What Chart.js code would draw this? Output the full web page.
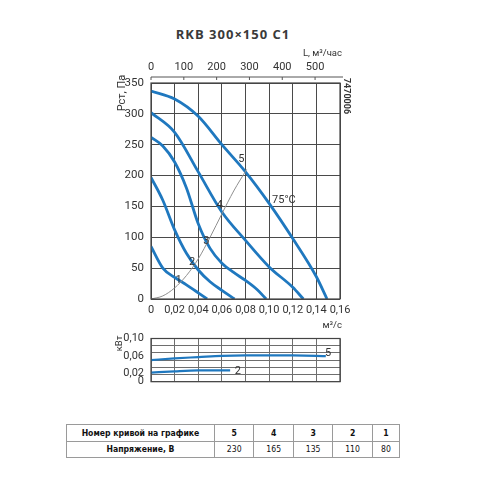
<!DOCTYPE html>
<html>
<head>
<meta charset="utf-8">
<script src="https://cdn.jsdelivr.net/npm/chart.js@4/dist/chart.umd.min.js"></script>
<style>
  body { margin: 0; background: #fff; }
  #page { position: relative; width: 480px; height: 480px; overflow: hidden; }
  canvas { position: absolute; left: 0; }
  #title { position: absolute; left: 0; width: 466px; top: 25px; text-align: center;
           font: bold 13px "Open Sans", sans-serif; letter-spacing: 1px; color: #3a3a3a; }
  table { position: absolute; left: 66px; top: 424px; width: 334px; border-collapse: collapse;
          font-family: "DejaVu Sans Condensed", "DejaVu Sans", sans-serif; font-size: 8.6px; color: #111; }
  td { border: 1px solid #9a9a9a; text-align: center; padding: 0; height: 15.5px; }
  td.head { width: 147px; font-weight: bold; }
  tr.num td { font-weight: bold; }
</style>
</head>
<body>
<div id="page">
  <div id="title">RKB 300×150 C1</div>
  <canvas id="pressure" width="480" height="320" style="top:0"></canvas>
  <canvas id="power" width="480" height="80" style="top:320px"></canvas>
  <table>
    <tr class="num"><td class="head">Номер кривой на графике</td><td>5</td><td>4</td><td>3</td><td>2</td><td>1</td></tr>
    <tr><td class="head">Напряжение, В</td><td>230</td><td>165</td><td>135</td><td>110</td><td>80</td></tr>
  </table>
</div>
<script>
// axis ticks
const flowTicks = [0, 0.02, 0.04, 0.06, 0.08, 0.10, 0.12, 0.14, 0.16];
const hourTicks = [0, 100, 200, 300, 400, 500];
const pressTicks = [0, 50, 100, 150, 200, 250, 300, 350];
const kwTicks = [0, 0.02, 0.06, 0.10];
const kwGrid = [0, 0.0167, 0.0333, 0.05, 0.0667, 0.0833, 0.10];

// fan curves, L (m3/s) -> Pст (Па)
const flow5 = [0, 0.02, 0.04, 0.06, 0.08, 0.10, 0.12, 0.14, 0.149];
const pres5 = [337, 324, 296, 250, 206, 155, 98, 36, 0];
const flow4 = [0, 0.02, 0.04, 0.06, 0.08, 0.10, 0.12, 0.129];
const pres4 = [302, 270, 206, 141, 95, 52, 19, 0];
const flow3 = [0, 0.01, 0.02, 0.03, 0.04, 0.05, 0.06, 0.07, 0.08, 0.09, 0.0975];
const pres3 = [262, 248, 222, 180, 122, 82, 58, 43, 30, 15, 0];
const flow2 = [0, 0.01, 0.02, 0.03, 0.04, 0.05, 0.06, 0.0707];
const pres2 = [197, 160, 112, 74, 47, 28, 14, 0];
const flow1 = [0, 0.01, 0.02, 0.03, 0.04, 0.0475];
const pres1 = [85, 50, 35, 23, 10, 0];
// network curve (grey)
const flowNet = [0, 0.01, 0.02, 0.03, 0.04, 0.05, 0.06, 0.07, 0.081];
const presNet = [0, 5, 18, 38, 65, 100, 138, 175, 210];

// power, кВт
const flowW5 = [0, 0.02, 0.04, 0.06, 0.08, 0.10, 0.12, 0.14, 0.148];
const power5 = [0.050, 0.054, 0.057, 0.060, 0.061, 0.061, 0.061, 0.060, 0.059];
const flowW2 = [0, 0.02, 0.04, 0.06, 0.067];
const power2 = [0.021, 0.024, 0.026, 0.026, 0.026];

const BLUE = '#1f78bf';
const FONT = 'Roboto, sans-serif';
const TXT = '#333';

let pts = (xs, ys) => xs.map((x, i) => ({ x: x, y: ys[i] }));
let fmtFlow = v => v === 0 ? '0' : v.toFixed(2).replace('.', ',');
let fixTicks = list => scale => { scale.ticks = list.map(v => ({ value: v })); };

let curve = (xs, ys, color = BLUE, width = 2.8) => ({
    data: pts(xs, ys),
    borderColor: color,
    borderWidth: width,
    pointRadius: 0,
    cubicInterpolationMode: 'monotone',
    fill: false
});

let frame = {
    id: 'frame',
    afterDatasetsDraw(chart) {
        let a = chart.chartArea, ctx = chart.ctx;
        ctx.save();
        ctx.strokeStyle = '#444';
        ctx.lineWidth = 1.2;
        ctx.strokeRect(a.left, a.top, a.right - a.left, a.bottom - a.top);
        ctx.restore();
    }
};

let text = (ctx, str, x, y, size, align = 'center', rot = 0, weight = 'normal') => {
    ctx.save();
    ctx.translate(x, y);
    ctx.rotate(rot);
    ctx.font = weight + ' ' + size + 'px ' + FONT;
    ctx.fillStyle = TXT;
    ctx.textAlign = align;
    ctx.textBaseline = 'middle';
    ctx.fillText(str, 0, 0);
    ctx.restore();
};

let pressureNotes = {
    id: 'pressureNotes',
    afterDraw(chart) {
        let ctx = chart.ctx, a = chart.chartArea;
        let x = chart.scales.x, y = chart.scales.y, top = chart.scales.x2;
        // m3/h axis line above the frame
        let ly = a.top - 6;
        ctx.save();
        ctx.strokeStyle = '#555';
        ctx.lineWidth = 1;
        ctx.beginPath();
        ctx.moveTo(a.left, ly);
        ctx.lineTo(a.right + 3, ly);
        hourTicks.forEach(v => {
            let px = top.getPixelForValue(v);
            ctx.moveTo(px, ly);
            ctx.lineTo(px, ly + 3);
        });
        ctx.stroke();
        ctx.restore();

        let at = (s, fx, py, size = 11, align = 'center') => text(ctx, s, x.getPixelForValue(fx), y.getPixelForValue(py), size, align);
        at('1', 0.0234, 30);
        at('2', 0.0347, 60);
        at('3', 0.0469, 94);
        at('4', 0.0581, 152);
        at('5', 0.0765, 227);
        at('75°C', 0.1025, 160, 11, 'left');

        text(ctx, 'Рст, Па', 122, 93, 11, 'center', -Math.PI / 2);
        text(ctx, 'L, м³/час', a.right + 2, 54, 9.5, 'right');
        text(ctx, '7470006', a.right + 6, 96, 9, 'center', Math.PI / 2, 'bold');
    }
};

let powerNotes = {
    id: 'powerNotes',
    afterDraw(chart) {
        let ctx = chart.ctx, a = chart.chartArea;
        let x = chart.scales.x, y = chart.scales.y;
        text(ctx, '5', x.getPixelForValue(0.150), y.getPixelForValue(0.067), 11);
        text(ctx, '2', x.getPixelForValue(0.0736), y.getPixelForValue(0.025), 11);
        text(ctx, 'м³/с', a.right + 2, a.top - 13, 9.5, 'right');
        text(ctx, 'кВт', 120, a.top + 5, 9.5, 'center', -Math.PI / 2);
    }
};

let tickFont = { family: FONT, size: 11 };
let gridMain = { color: '#4a4a4a', lineWidth: 1, drawTicks: false };
let gridLow = { color: '#6e6e6e', lineWidth: 1, drawTicks: false };

new Chart(document.getElementById('pressure'), {
    type: 'line',
    data: {
        datasets: [
            curve(flowNet, presNet, '#8f8f8f', 1),
            curve(flow5, pres5),
            curve(flow4, pres4),
            curve(flow3, pres3),
            curve(flow2, pres2),
            curve(flow1, pres1)
        ]
    },
    options: {
        responsive: false,
        animation: false,
        devicePixelRatio: 1,
        layout: { padding: { left: 0, right: 140, top: 0, bottom: 0 } },
        plugins: { legend: { display: false }, tooltip: { enabled: false } },
        scales: {
            x: {
                type: 'linear', min: 0, max: 0.16,
                afterBuildTicks: fixTicks(flowTicks),
                afterFit: s => { s.height = 21; },
                grid: gridMain,
                border: { display: false },
                ticks: { padding: 5, color: TXT, font: tickFont, callback: fmtFlow, maxRotation: 0, autoSkip: false }
            },
            x2: {
                type: 'linear', position: 'top', min: 0, max: 576,
                afterBuildTicks: fixTicks(hourTicks),
                afterFit: s => { s.height = 83; },
                grid: { display: false, drawTicks: false },
                border: { display: false },
                ticks: { padding: 9, color: TXT, font: tickFont, maxRotation: 0, autoSkip: false }
            },
            y: {
                type: 'linear', min: 0, max: 350,
                afterBuildTicks: fixTicks(pressTicks),
                afterFit: s => { s.width = 151; },
                grid: gridMain,
                border: { display: false },
                ticks: { padding: 7, color: TXT, font: { family: FONT, size: 11.5 }, autoSkip: false }
            }
        }
    },
    plugins: [frame, pressureNotes]
});

new Chart(document.getElementById('power'), {
    type: 'line',
    data: {
        datasets: [
            Object.assign(curve(flowW5, power5, BLUE, 2.2), { yAxisID: 'y' }),
            Object.assign(curve(flowW2, power2, BLUE, 2.2), { yAxisID: 'y' })
        ]
    },
    options: {
        responsive: false,
        animation: false,
        devicePixelRatio: 1,
        layout: { padding: { left: 0, right: 140, top: 18.5, bottom: 0 } },
        plugins: { legend: { display: false }, tooltip: { enabled: false } },
        scales: {
            x: {
                type: 'linear', min: 0, max: 0.16,
                afterBuildTicks: fixTicks(flowTicks),
                afterFit: s => { s.height = 18.3; },
                grid: gridLow,
                border: { display: false },
                ticks: { display: false, autoSkip: false }
            },
            y: {
                type: 'linear', position: 'left', min: 0, max: 0.10,
                afterBuildTicks: fixTicks(kwTicks),
                afterFit: s => { s.width = 151; },
                grid: { display: false, drawTicks: false },
                border: { display: false },
                ticks: { padding: 7, color: TXT, font: { family: FONT, size: 11 }, callback: fmtFlow, autoSkip: false }
            },
            yGrid: {
                type: 'linear', position: 'right', min: 0, max: 0.10,
                afterBuildTicks: fixTicks(kwGrid),
                afterFit: s => { s.width = 0; },
                grid: gridLow,
                border: { display: false },
                ticks: { display: false, autoSkip: false }
            }
        }
    },
    plugins: [frame, powerNotes]
});
</script>
</body>
</html>
